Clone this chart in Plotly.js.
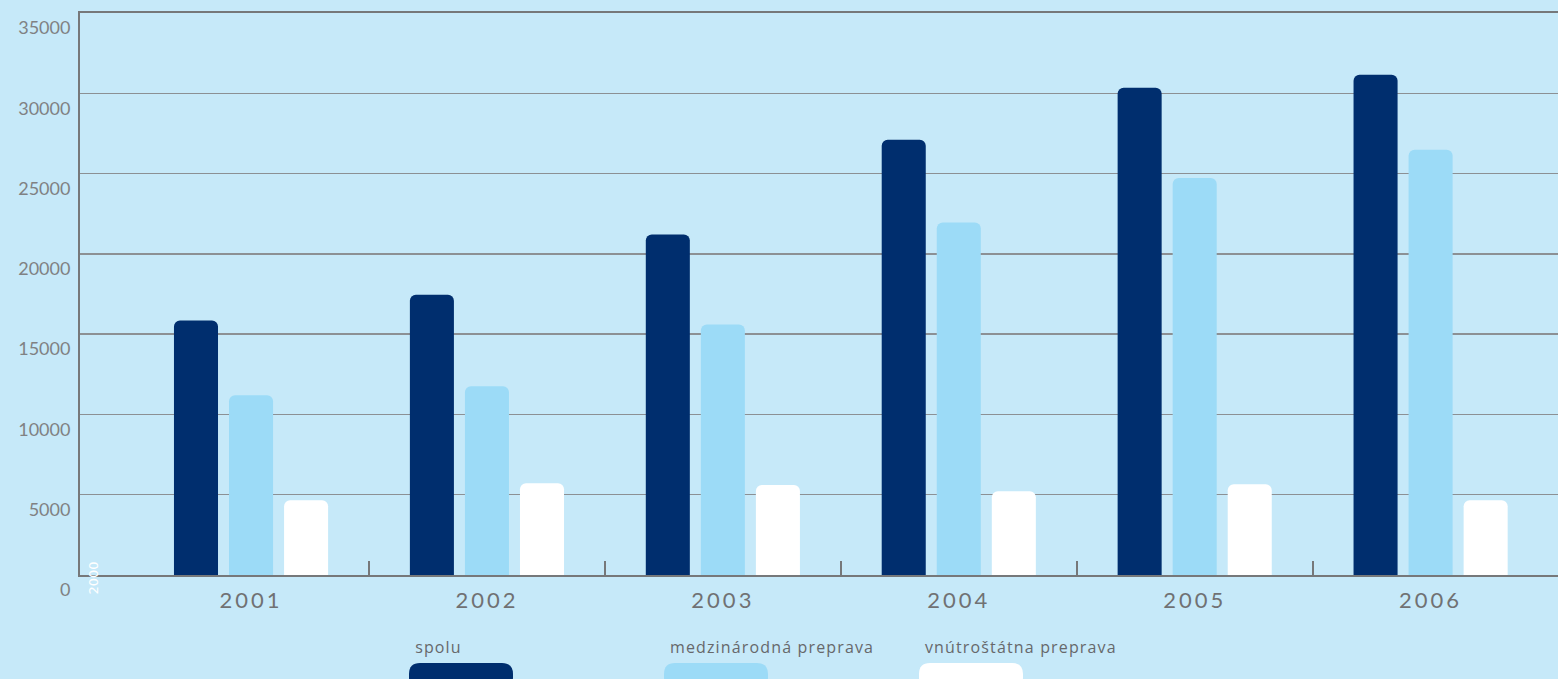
<!DOCTYPE html>
<html><head><meta charset="utf-8">
<script src="https://cdn.plot.ly/plotly-3.0.1.min.js"></script>
<style>
html,body{margin:0;padding:0;background:#c6e9f9;}
#chart{width:1558px;height:679px;}
.xaxislayer-above .xtick text{letter-spacing:3px;}
</style>
</head><body><div id="chart"></div>
<script>
const years = ['2001','2002','2003','2004','2005','2006'];
const spolu = [15850, 17450, 21200, 27100, 30350, 31150];
const medzinarodna = [11200, 11750, 15600, 21950, 24730, 26480];
const vnutrostatna = [4660, 5720, 5600, 5220, 5650, 4660];
const seriesNames = ['spolu','medzinárodná preprava','vnútroštátna preprava'];
const seriesColors = ['#002e6e','#9cdbf7','#ffffff'];
const yTicks = [0,5000,10000,15000,20000,25000,30000,35000];
const boundaryTicks = [0.5,1.5,2.5,3.5,4.5];

const W = 1558, H = 679, mL = 80, mR = 0, mT = 13, mB = 104;
const pw = W - mL - mR, ph = H - mT - mB;
const px2x = p => (p - mL) / pw;
const px2y = p => (H - mB - p) / ph;
const LS = 1.15; // legend letter spacing (px)

const allSeries = [spolu, medzinarodna, vnutrostatna];
const traces = allSeries.map((vals, i) => ({
  type: 'bar', x: years, y: vals, name: seriesNames[i],
  marker: {color: seriesColors[i], cornerradius: 6, line: {width: 0}},
  hoverinfo: 'x+y', showlegend: false
}));
traces.push({type:'scatter', x:[], y:[], xaxis:'x2', yaxis:'y', showlegend:false, hoverinfo:'skip'});

// custom legend: text above a pill swatch
const legendX = [409, 664, 919];
const pillW = 104, pillTop = 663, pillBot = 688, r = 11;
const shapes = legendX.map((lx, i) => {
  const x0 = px2x(lx), x1 = px2x(lx + pillW);
  const rx = r / pw, ry = r / ph;
  const yt = px2y(pillTop), yb = px2y(pillBot);
  const path = `M ${x0+rx} ${yt} L ${x1-rx} ${yt} Q ${x1} ${yt} ${x1} ${yt-ry} L ${x1} ${yb+ry} Q ${x1} ${yb} ${x1-rx} ${yb} L ${x0+rx} ${yb} Q ${x0} ${yb} ${x0} ${yb+ry} L ${x0} ${yt-ry} Q ${x0} ${yt} ${x0+rx} ${yt} Z`;
  return {type:'path', xref:'paper', yref:'paper', path, fillcolor: seriesColors[i], line:{width:0}, layer:'above'};
});
const annotations = legendX.map((lx, i) => ({
  xref:'paper', yref:'paper', x: px2x(lx + 4 + seriesNames[i].length * LS / 2), y: px2y(647), xanchor:'left', yanchor:'middle',
  text: seriesNames[i], showarrow:false, font:{family:'Open Sans, sans-serif', size:16, color:'#67686b'}
}));
annotations.push({xref:'paper', yref:'paper', x: px2x(92.5), y: px2y(578), xanchor:'center', yanchor:'middle',
  text:'2000', textangle:-90, showarrow:false, font:{family:'DejaVu Sans, sans-serif', size:13, color:'#ffffff'}});

const layout = {
  width: W, height: H,
  margin: {l: mL, r: mR, t: mT, b: mB, pad: 0},
  paper_bgcolor: '#c6e9f9', plot_bgcolor: '#c6e9f9',
  barmode: 'group', bargap: 0.3, bargroupgap: 0.2,
  showlegend: false,
  xaxis: {
    type: 'category', range: [-0.725, 5.54], showgrid: false, zeroline: false,
    showline: true, linecolor: '#76787a', linewidth: 2, mirror: true,
    ticks: '', ticklabelstandoff: 5,
    tickfont: {family: 'Lato, sans-serif', size: 22, color: '#707173', weight: 400}
  },
  xaxis2: {
    overlaying: 'x', anchor: 'y', range: [-0.725, 5.54], showgrid: false, zeroline: false,
    showline: false, tickmode: 'array', tickvals: boundaryTicks, ticktext: boundaryTicks.map(() => ''),
    ticks: 'inside', ticklen: 14, tickwidth: 2, tickcolor: '#76787a', showticklabels: false
  },
  yaxis: {
    range: [0, 35000], tickmode: 'array', tickvals: yTicks, ticktext: yTicks.map(String),
    showgrid: true, gridcolor: '#8c9094', gridwidth: 1.5, zeroline: false,
    showline: true, linecolor: '#76787a', linewidth: 2,
    ticks: '', ticklabelstandoff: 4, ticklabelshift: 15,
    tickfont: {family: 'Lato, sans-serif', size: 18, color: '#808183', weight: 400}
  },
  shapes, annotations
};
Plotly.newPlot('chart', traces, layout, {displayModeBar: false, staticPlot: true}).then(gd => {
  gd.querySelectorAll('.annotation-text').forEach(t => {
    if (seriesNames.includes(t.textContent)) t.style.letterSpacing = LS + 'px';
  });
});
</script></body></html>
